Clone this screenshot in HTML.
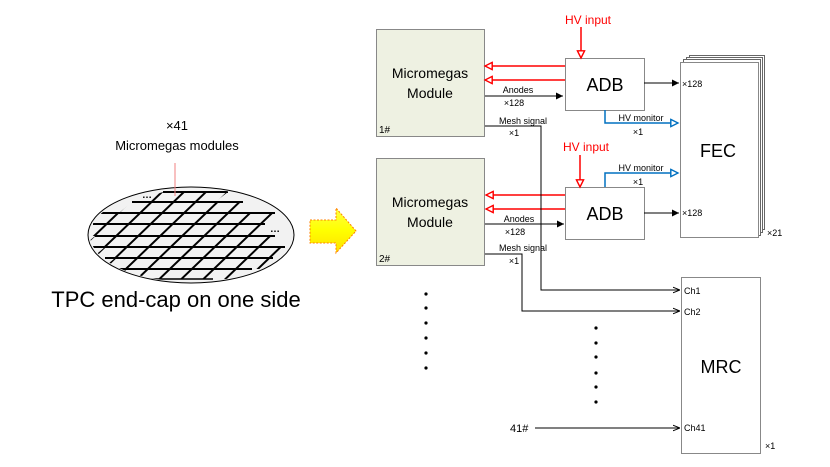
<!DOCTYPE html>
<html><head><meta charset="utf-8"><style>
html,body{margin:0;padding:0;background:#fff;}
svg{display:block;font-family:"Liberation Sans",sans-serif;}
</style></head><body>
<svg width="830" height="467" viewBox="0 0 830 467" xmlns="http://www.w3.org/2000/svg">
<defs>
<marker id="fa" viewBox="0 0 10 10" refX="10" refY="5" markerWidth="9" markerHeight="7" markerUnits="userSpaceOnUse" orient="auto"><path d="M0,0L10,5L0,10Z" fill="#000"/></marker>
<marker id="oa" viewBox="0 0 10 10" refX="10" refY="5" markerWidth="7" markerHeight="7" markerUnits="userSpaceOnUse" orient="auto"><path d="M0,1L10,5L0,9" fill="none" stroke="#000" stroke-width="1.3"/></marker>
<marker id="ra" viewBox="0 0 10 10" refX="9" refY="5" markerWidth="10" markerHeight="9" markerUnits="userSpaceOnUse" orient="auto"><path d="M1,1L9,5L1,9Z" fill="#fff" stroke="#f00" stroke-width="1.6"/></marker>
<marker id="ba" viewBox="0 0 10 10" refX="9" refY="5" markerWidth="10" markerHeight="9" markerUnits="userSpaceOnUse" orient="auto"><path d="M1,1L9,5L1,9Z" fill="#fff" stroke="#0070c0" stroke-width="1.6"/></marker>
<linearGradient id="yg" x1="0" y1="0" x2="0" y2="1"><stop offset="0" stop-color="#ffff40"/><stop offset="0.5" stop-color="#ffff00"/><stop offset="1" stop-color="#ffe000"/></linearGradient>
<clipPath id="ec"><ellipse cx="191" cy="235" rx="101" ry="47"/></clipPath>
<clipPath id="gc">
<path d="M163,192 L228,192 L215,202 L132,202 Z"/>
<path d="M132,202 L243,202 L230,213 L119,213 Z"/>
<path d="M95,213 L275,213 L262,224 L82,224 Z"/>
<path d="M93,224 L265,224 L252,236 L80,236 Z"/>
<path d="M95,236 L275,236 L262,247 L82,247 Z"/>
<path d="M105,247 L285,247 L272,258 L92,258 Z"/>
<path d="M115,258 L273,258 L260,269 L102,269 Z"/>
<path d="M123,269 L252,269 L239,279 L110,279 Z"/>
</clipPath>
</defs>

<!-- left side -->
<text x="177" y="130" font-size="13" text-anchor="middle">×41</text>
<text x="177" y="150" font-size="13" text-anchor="middle">Micromegas modules</text>
<ellipse cx="191" cy="235" rx="103" ry="48" fill="#f2f2f2" stroke="#000" stroke-width="1"/>
<g clip-path="url(#ec)">
<g stroke="#000" stroke-width="2">
<g clip-path="url(#gc)">
<line x1="120" y1="190" x2="16" y2="290"/>
<line x1="142" y1="190" x2="38" y2="290"/>
<line x1="164" y1="190" x2="60" y2="290"/>
<line x1="186" y1="190" x2="82" y2="290"/>
<line x1="208" y1="190" x2="104" y2="290"/>
<line x1="230" y1="190" x2="126" y2="290"/>
<line x1="252" y1="190" x2="148" y2="290"/>
<line x1="274" y1="190" x2="170" y2="290"/>
<line x1="296" y1="190" x2="192" y2="290"/>
<line x1="318" y1="190" x2="214" y2="290"/>
<line x1="340" y1="190" x2="236" y2="290"/>
<line x1="362" y1="190" x2="258" y2="290"/>
<line x1="384" y1="190" x2="280" y2="290"/>
<line x1="406" y1="190" x2="302" y2="290"/>
</g>
<line x1="163" y1="192" x2="228" y2="192"/>
<line x1="132" y1="202" x2="243" y2="202"/>
<line x1="95" y1="213" x2="275" y2="213"/>
<line x1="93" y1="224" x2="265" y2="224"/>
<line x1="95" y1="236" x2="275" y2="236"/>
<line x1="93" y1="247" x2="285" y2="247"/>
<line x1="105" y1="258" x2="273" y2="258"/>
<line x1="115" y1="269" x2="252" y2="269"/>
<line x1="148" y1="279" x2="213" y2="279" stroke-width="1.5"/>
</g>
</g>
<line x1="175" y1="163" x2="175" y2="196" stroke="#f08080" stroke-width="1"/>
<text x="142" y="198" font-size="10" font-weight="bold">…</text>
<text x="270" y="232" font-size="10" font-weight="bold">…</text>
<text x="176" y="307" font-size="22" text-anchor="middle">TPC end-cap on one side</text>

<!-- yellow arrow -->
<path d="M310,220 L336,220 L336,208 L356,231 L336,253 L336,243 L310,243 Z" fill="url(#yg)" stroke="#ff8000" stroke-width="1" stroke-dasharray="2,1.5"/>

<!-- modules -->
<rect x="376.5" y="29.5" width="108" height="107" fill="#eef1e2" stroke="#888"/>
<text x="430" y="78" font-size="14" text-anchor="middle">Micromegas</text>
<text x="430" y="98" font-size="14" text-anchor="middle">Module</text>
<text x="379" y="133" font-size="10">1#</text>
<rect x="376.5" y="158.5" width="108" height="107" fill="#eef1e2" stroke="#888"/>
<text x="430" y="207" font-size="14" text-anchor="middle">Micromegas</text>
<text x="430" y="227" font-size="14" text-anchor="middle">Module</text>
<text x="379" y="262" font-size="10">2#</text>

<!-- ADB -->
<rect x="565.5" y="58.5" width="79" height="52" fill="#fff" stroke="#888"/>
<text x="605" y="91" font-size="18" text-anchor="middle">ADB</text>
<rect x="565.5" y="187.5" width="79" height="52" fill="#fff" stroke="#888"/>
<text x="605" y="220" font-size="18" text-anchor="middle">ADB</text>

<!-- FEC stack -->
<rect x="689.5" y="55.5" width="75" height="174" fill="#fff" stroke="#666"/>
<rect x="686.5" y="57.5" width="76" height="175" fill="#fff" stroke="#666"/>
<rect x="683.5" y="59.5" width="77" height="176" fill="#fff" stroke="#666"/>
<rect x="680.5" y="62.5" width="78" height="175" fill="#fff" stroke="#888"/>
<text x="718" y="157" font-size="18" text-anchor="middle">FEC</text>
<text x="767" y="236" font-size="9">×21</text>

<!-- HV inputs -->
<text x="588" y="24" font-size="12" fill="#f00" text-anchor="middle">HV input</text>
<line x1="581" y1="27" x2="581" y2="58" stroke="#f00" stroke-width="1.5" marker-end="url(#ra)"/>
<text x="586" y="151" font-size="12" fill="#f00" text-anchor="middle">HV input</text>
<line x1="580" y1="155" x2="580" y2="187" stroke="#f00" stroke-width="1.5" marker-end="url(#ra)"/>

<!-- red to modules -->
<g stroke="#f00" stroke-width="1.5">
<line x1="565" y1="66" x2="485" y2="66" marker-end="url(#ra)"/>
<line x1="565" y1="80" x2="485" y2="80" marker-end="url(#ra)"/>
<line x1="565" y1="195" x2="486" y2="195" marker-end="url(#ra)"/>
<line x1="565" y1="209" x2="486" y2="209" marker-end="url(#ra)"/>
</g>

<!-- anodes -->
<line x1="485" y1="96" x2="563" y2="96" stroke="#000" stroke-width="1" marker-end="url(#fa)"/>
<text x="518" y="93" font-size="9" text-anchor="middle">Anodes</text>
<text x="514" y="106" font-size="9" text-anchor="middle">×128</text>
<line x1="485" y1="224" x2="564" y2="224" stroke="#000" stroke-width="1" marker-end="url(#fa)"/>
<text x="519" y="222" font-size="9" text-anchor="middle">Anodes</text>
<text x="515" y="235" font-size="9" text-anchor="middle">×128</text>

<!-- ADB to FEC -->
<line x1="644" y1="83" x2="679" y2="83" stroke="#000" stroke-width="1" marker-end="url(#fa)"/>
<text x="682" y="87" font-size="9">×128</text>
<line x1="644" y1="213" x2="679" y2="213" stroke="#000" stroke-width="1" marker-end="url(#fa)"/>
<text x="682" y="216" font-size="9">×128</text>

<!-- HV monitor -->
<polyline points="605,110 605,123 678,123" fill="none" stroke="#0070c0" stroke-width="1.5" marker-end="url(#ba)"/>
<text x="641" y="121" font-size="9" text-anchor="middle">HV monitor</text>
<text x="638" y="135" font-size="9" text-anchor="middle">×1</text>
<polyline points="605,187 605,173 678,173" fill="none" stroke="#0070c0" stroke-width="1.5" marker-end="url(#ba)"/>
<text x="641" y="171" font-size="9" text-anchor="middle">HV monitor</text>
<text x="638" y="185" font-size="9" text-anchor="middle">×1</text>

<!-- mesh signals -->
<polyline points="485,126 541,126 541,290 680,290" fill="none" stroke="#000" stroke-width="1" marker-end="url(#oa)"/>
<text x="523" y="124" font-size="9" text-anchor="middle">Mesh signal</text>
<text x="514" y="136" font-size="9" text-anchor="middle">×1</text>
<polyline points="485,254 522,254 522,311 680,311" fill="none" stroke="#000" stroke-width="1" marker-end="url(#oa)"/>
<text x="523" y="251" font-size="9" text-anchor="middle">Mesh signal</text>
<text x="514" y="264" font-size="9" text-anchor="middle">×1</text>

<!-- MRC -->
<rect x="681.5" y="277.5" width="79" height="176" fill="#fff" stroke="#888"/>
<text x="721" y="373" font-size="18" text-anchor="middle">MRC</text>
<text x="684" y="294" font-size="9">Ch1</text>
<text x="684" y="315" font-size="9">Ch2</text>
<text x="684" y="431" font-size="9">Ch41</text>
<text x="765" y="449" font-size="9">×1</text>
<text x="510" y="432" font-size="11">41#</text>
<line x1="535" y1="428" x2="680" y2="428" stroke="#000" stroke-width="1" marker-end="url(#oa)"/>

<!-- dots -->
<g fill="#000">
<circle cx="426" cy="294" r="1.6"/><circle cx="426" cy="308" r="1.6"/><circle cx="426" cy="323" r="1.6"/>
<circle cx="426" cy="338" r="1.6"/><circle cx="426" cy="353" r="1.6"/><circle cx="426" cy="368" r="1.6"/>
<circle cx="596" cy="328" r="1.6"/><circle cx="596" cy="343" r="1.6"/><circle cx="596" cy="357" r="1.6"/>
<circle cx="596" cy="373" r="1.6"/><circle cx="596" cy="387" r="1.6"/><circle cx="596" cy="402" r="1.6"/>
</g>
</svg>
</body></html>
